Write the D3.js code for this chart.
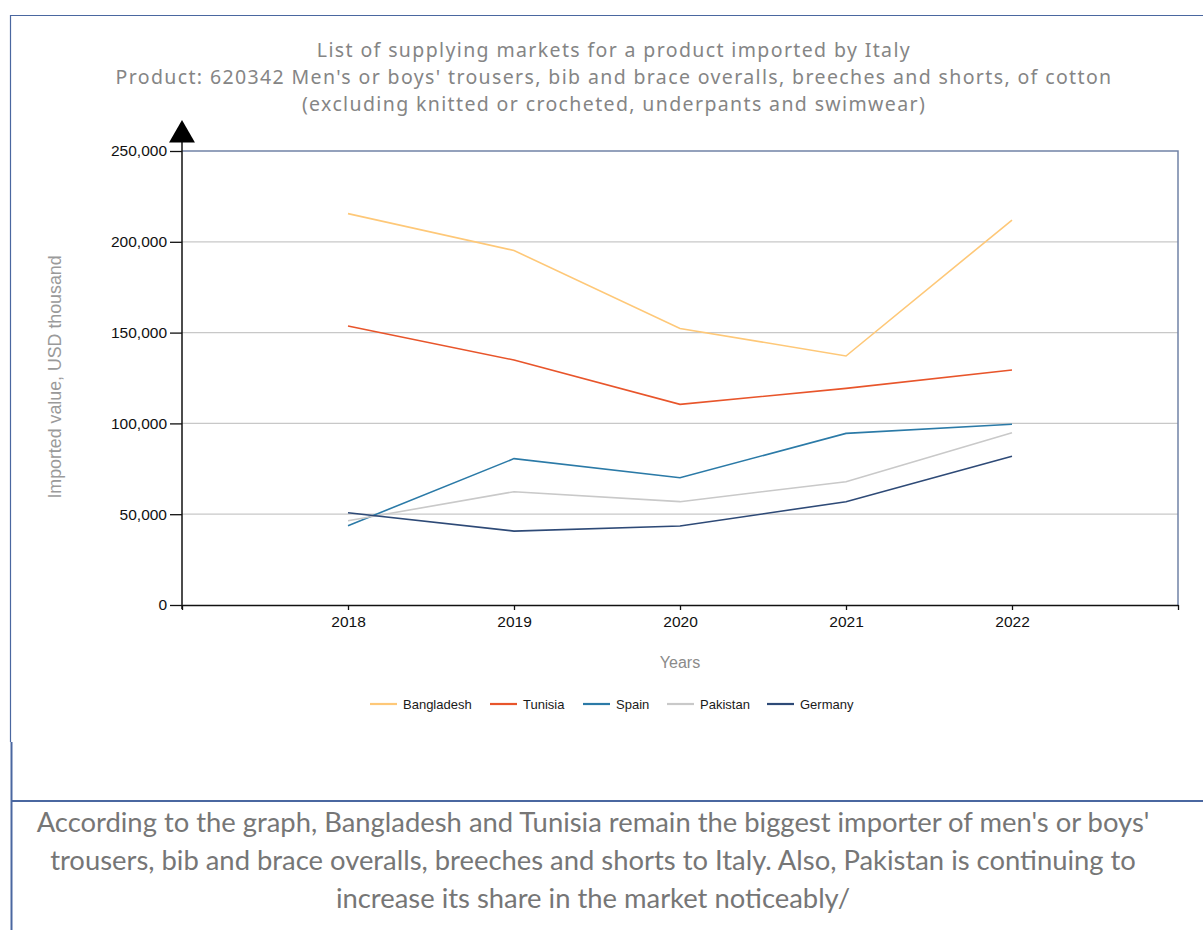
<!DOCTYPE html>
<html>
<head>
<meta charset="utf-8">
<script src="https://cdn.jsdelivr.net/npm/d3@7"></script>
<style>
  body { margin: 0; background: #fff; }
  svg { display: block; }
</style>
</head>
<body>
<svg id="chart" width="1203" height="930" viewBox="0 0 1203 930"></svg>
<script>
// data (USD thousand)
const years = [2018, 2019, 2020, 2021, 2022]
const countries = ["Bangladesh", "Tunisia", "Spain", "Pakistan", "Germany"]
const bangladesh = [215.5, 195.2, 152.3, 137.1, 212.0].map(v => v * 1000)
const tunisia = [153.6, 134.9, 110.5, 119.3, 129.4].map(v => v * 1000)
const spain = [43.7, 80.6, 70.1, 94.5, 99.5].map(v => v * 1000)
const pakistan = [46.4, 62.4, 56.9, 67.9, 94.9].map(v => v * 1000)
const germany = [50.8, 40.7, 43.5, 56.9, 81.9].map(v => v * 1000)
const yTicks = [0, 50000, 100000, 150000, 200000, 250000]
const colors = ["#fec878", "#e8552b", "#2b7aa7", "#c9c9c9", "#2e4a77"]

const titleLines = [
    "List of supplying markets for a product imported by Italy",
    "Product: 620342 Men's or boys' trousers, bib and brace overalls, breeches and shorts, of cotton",
    "(excluding knitted or crocheted, underpants and swimwear)"
]
const noteLines = [
    "According to the graph, Bangladesh and Tunisia remain the biggest importer of men's or boys'",
    "trousers, bib and brace overalls, breeches and shorts to Italy. Also, Pakistan is continuing to",
    "increase its share in the market noticeably/"
]

const series = countries.map((c, i) => ({
    name: c,
    color: colors[i],
    values: [bangladesh, tunisia, spain, pakistan, germany][i]
}))

const svg = d3.select("#chart")
const plotLeft = 182, plotRight = 1178, plotTop = 151, plotBottom = 605

const x = d3.scaleLinear().domain([2017, 2023]).range([plotLeft, plotRight])
const y = d3.scaleLinear().domain([0, 250000]).range([plotBottom, plotTop])

// page frame
const frame = svg.append("g").attr("fill", "none")
frame.append("line").attr("x1", 10).attr("x2", 1203).attr("y1", 15.5).attr("y2", 15.5)
    .attr("stroke", "#4a67a0").attr("stroke-width", 1.2)
frame.append("line").attr("x1", 10.5).attr("x2", 10.5).attr("y1", 15).attr("y2", 742)
    .attr("stroke", "#4a67a0").attr("stroke-width", 1.2)
frame.append("line").attr("x1", 11.5).attr("x2", 11.5).attr("y1", 742).attr("y2", 930)
    .attr("stroke", "#4a67a0").attr("stroke-width", 2)
frame.append("line").attr("x1", 11).attr("x2", 1203).attr("y1", 801).attr("y2", 801)
    .attr("stroke", "#4a67a0").attr("stroke-width", 2)

// title (Verdana-like width: widen the letters a little)
const titles = svg.append("g")
    .selectAll("text")
    .data(titleLines)
    .enter()
    .append("text")
    .attr("x", 614)
    .attr("y", (d, i) => 57 + i * 27)
    .attr("text-anchor", "middle")
    .style("font-family", "'Noto Sans', 'Open Sans', sans-serif")
    .style("font-size", "19.5px")
    .style("fill", "#858585")
    .text(d => d)
const longest = titles.nodes()[1]
const spacing = (997 - longest.getComputedTextLength()) / titleLines[1].length
titles.style("letter-spacing", spacing + "px")

// gridlines
svg.append("g")
    .selectAll("line")
    .data(yTicks.filter(d => d > 0 && d < 250000))
    .enter()
    .append("line")
    .attr("x1", plotLeft).attr("x2", plotRight)
    .attr("y1", d => y(d)).attr("y2", d => y(d))
    .attr("stroke", "#c8c8c8").attr("stroke-width", 1.2)

// plot frame (top + right)
svg.append("path")
    .attr("d", `M${plotLeft},${plotTop}H${plotRight}V${plotBottom}`)
    .attr("fill", "none")
    .attr("stroke", "#7283a6")
    .attr("stroke-width", 1.5)

// lines
const line = d3.line()
    .x((d, i) => x(years[i]))
    .y(d => y(d))

svg.append("g")
    .selectAll("path")
    .data(series)
    .enter()
    .append("path")
    .attr("d", d => line(d.values))
    .attr("fill", "none")
    .attr("stroke", d => d.color)
    .attr("stroke-width", 1.6)

// x axis
const xAxis = svg.append("g")
    .attr("transform", `translate(0,${plotBottom})`)
    .call(d3.axisBottom(x)
        .tickValues([2017].concat(years, [2023]))
        .tickFormat(d => years.includes(d) ? d : "")
        .tickSizeInner(5)
        .tickSizeOuter(0)
        .tickPadding(6))
xAxis.select(".domain").attr("stroke", "#111").attr("stroke-width", 1.5)
xAxis.selectAll(".tick line").attr("stroke", "#111").attr("stroke-width", 1.3)
xAxis.selectAll("text")
    .style("font-family", "'Liberation Sans', Arial, sans-serif")
    .style("font-size", "15.5px")
    .style("fill", "#111")

// y axis
const yAxis = svg.append("g")
    .attr("transform", `translate(${plotLeft},0)`)
    .call(d3.axisLeft(y)
        .tickValues(yTicks)
        .tickFormat(d3.format(","))
        .tickSizeInner(12)
        .tickSizeOuter(0)
        .tickPadding(3))
yAxis.select(".domain").attr("d", `M0,${plotTop - 10}V${plotBottom + 4}`)
    .attr("stroke", "#111").attr("stroke-width", 1.5)
yAxis.selectAll(".tick line").attr("stroke", "#111").attr("stroke-width", 1.3)
yAxis.selectAll("text")
    .style("font-family", "'Liberation Sans', Arial, sans-serif")
    .style("font-size", "15.5px")
    .style("fill", "#111")

// arrow on the y axis
svg.append("path")
    .attr("d", d3.symbol().type(d3.symbolTriangle).size(290))
    .attr("transform", `translate(${plotLeft},${plotTop - 16})`)
    .attr("fill", "#000")

// axis titles
svg.append("text")
    .attr("transform", `translate(61,${(256 + 498) / 2}) rotate(-90)`)
    .attr("text-anchor", "middle")
    .style("font-family", "'Liberation Sans', Arial, sans-serif")
    .style("font-size", "17.8px")
    .style("fill", "#9a9a9a")
    .text("Imported value, USD thousand")

svg.append("text")
    .attr("x", 680)
    .attr("y", 668)
    .attr("text-anchor", "middle")
    .style("font-family", "'Liberation Sans', Arial, sans-serif")
    .style("font-size", "16px")
    .style("fill", "#8a8a8a")
    .text("Years")

// legend
const legendX = [370, 490, 583, 667, 767]
const legend = svg.append("g")
    .selectAll("g")
    .data(series)
    .enter()
    .append("g")
    .attr("transform", (d, i) => `translate(${legendX[i]},704)`)
legend.append("line")
    .attr("x1", 0).attr("x2", 27)
    .attr("stroke", d => d.color)
    .attr("stroke-width", 2.2)
legend.append("text")
    .attr("x", 33)
    .attr("dy", "0.35em")
    .style("font-family", "'Liberation Sans', Arial, sans-serif")
    .style("font-size", "13px")
    .style("fill", "#1a1a1a")
    .text(d => d.name)

// note under the chart
svg.append("g")
    .selectAll("text")
    .data(noteLines)
    .enter()
    .append("text")
    .attr("x", 593)
    .attr("y", (d, i) => 832 + i * 38)
    .attr("text-anchor", "middle")
    .style("font-family", "Lato, 'Open Sans', sans-serif")
    .style("font-size", "27.4px")
    .style("fill", "#767676")
    .text(d => d)
</script>
</body>
</html>
